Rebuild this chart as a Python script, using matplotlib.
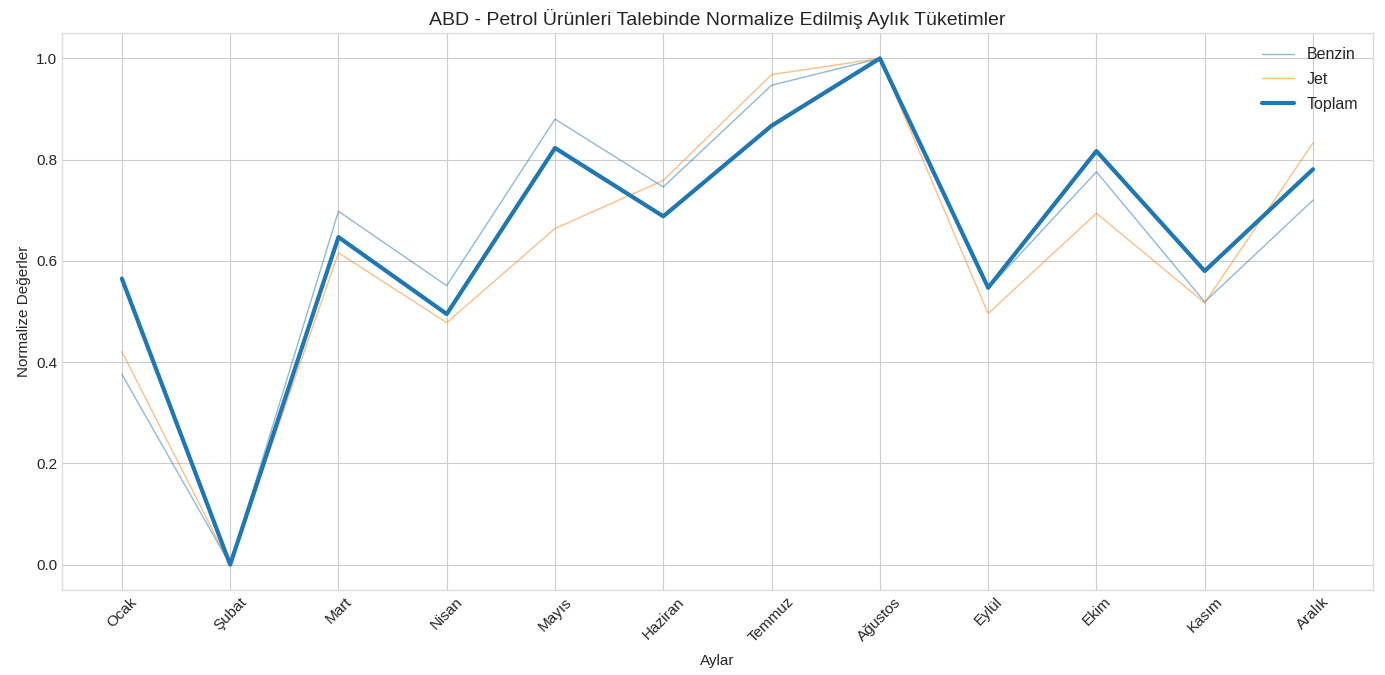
import numpy as np
import matplotlib
matplotlib.use("Agg")
import matplotlib.pyplot as plt

# ----------------------------------- data -----------------------------------
aylar = ["Ocak", "Şubat", "Mart", "Nisan", "Mayıs", "Haziran",
         "Temmuz", "Ağustos", "Eylül", "Ekim", "Kasım", "Aralık"]
benzin = [0.376, 0.0, 0.698, 0.551, 0.880, 0.746, 0.947, 1.0, 0.545, 0.776, 0.519, 0.720]
jet = [0.421, 0.0, 0.616, 0.478, 0.664, 0.759, 0.968, 1.0, 0.496, 0.694, 0.517, 0.833]
toplam = [0.565, 0.0, 0.647, 0.495, 0.823, 0.688, 0.867, 1.0, 0.547, 0.817, 0.580, 0.781]

# ----------------------------------- plot -----------------------------------
plt.style.use("seaborn-v0_8-whitegrid")
plt.rcParams["font.family"] = ["Liberation Sans", "DejaVu Sans"]

fig, ax = plt.subplots(figsize=(13.85, 6.75), dpi=100)
ax.plot(aylar, benzin, color="#1f77b4", linewidth=1, alpha=0.5, label="Benzin")
ax.plot(aylar, jet, color="#ff7f0e", linewidth=1, alpha=0.5, label="Jet")
ax.plot(aylar, toplam, color="#1f77b4", linewidth=3, label="Toplam")

ax.set_title("ABD - Petrol Ürünleri Talebinde Normalize Edilmiş Aylık Tüketimler", fontsize=14, pad=6)
ax.set_xlabel("Aylar", fontsize=11, labelpad=6)
ax.set_ylabel("Normalize Değerler", fontsize=11)
ax.tick_params(axis="both", labelsize=11)
plt.xticks(rotation=45)
ax.legend(loc="upper right", fontsize=11.5, labelspacing=0.6)
for s in ax.spines.values():
    s.set_visible(True)
    s.set_color("#dddddd")

plt.subplots_adjust(left=0.045, right=0.991, top=0.951, bottom=0.126)
plt.savefig("out.png")
